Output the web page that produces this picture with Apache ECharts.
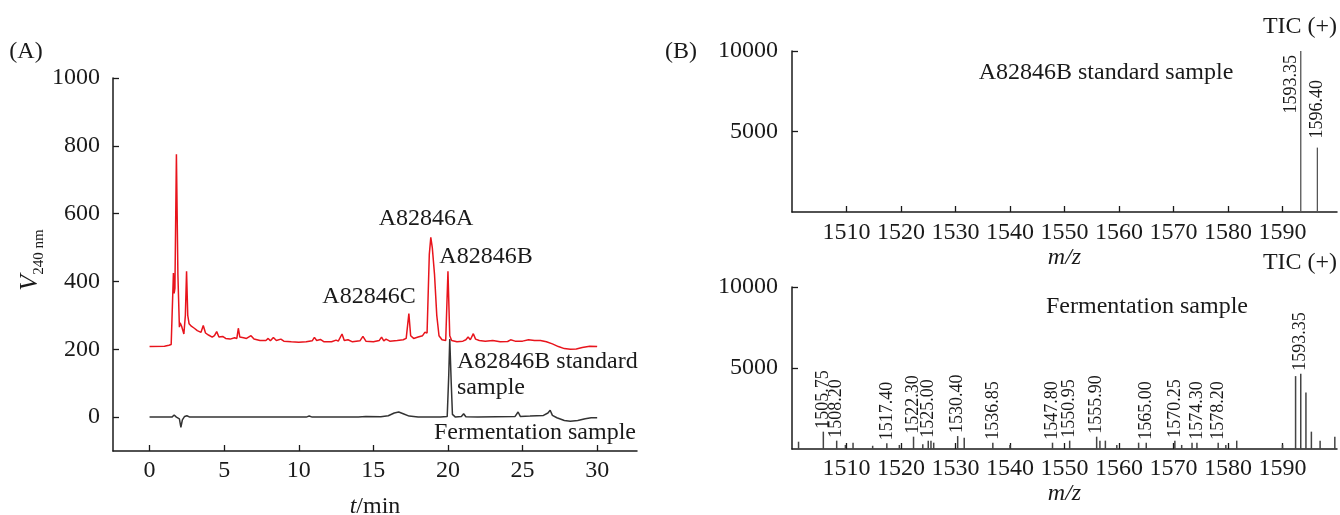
<!DOCTYPE html>
<html>
<head>
<meta charset="utf-8">
<script src="https://cdn.jsdelivr.net/npm/echarts@6/dist/echarts.min.js"></script>
<style>
  html, body { margin: 0; padding: 0; background: #fff; }
  #main { width: 1340px; height: 515px; }
</style>
</head>
<body>
<div id="main"></div>
<script>
// ===== (A) HPLC chromatogram, 240 nm =====
var redTime = [0, 1.0, 1.3, 1.45, 1.52, 1.6, 1.65, 1.7, 1.8, 1.9, 2.0, 2.05, 2.15, 2.3, 2.4, 2.48, 2.56, 2.65, 2.8, 3.0,
  3.2, 3.45, 3.6, 3.75, 3.95, 4.2, 4.35, 4.5, 4.65, 4.9, 5.1, 5.4, 5.7, 5.85, 5.95, 6.05, 6.3, 6.5, 6.8, 7.0,
  7.4, 7.8, 7.95, 8.1, 8.3, 8.5, 8.8, 9.0, 9.5, 10.0, 10.5, 10.9, 11.05, 11.2, 11.45, 11.7, 12.2, 12.5, 12.65, 12.9,
  13.05, 13.3, 13.6, 14.1, 14.3, 14.5, 15.0, 15.4, 15.55, 15.7, 15.85, 16.1, 16.6, 17.0, 17.2, 17.38, 17.5, 17.7, 18.0, 18.3,
  18.45, 18.6, 18.75, 18.85, 18.95, 19.1, 19.25, 19.4, 19.6, 19.85, 20.0, 20.12, 20.25, 20.6, 21.0, 21.2, 21.35, 21.5, 21.7, 21.85,
  22.1, 22.5, 23.0, 23.5, 24.0, 24.2, 24.5, 25.0, 25.4, 25.8, 26.2, 26.6, 27.0, 27.4, 27.8, 28.2, 28.6, 29.0, 29.5, 30.0];
var redSignal = [208, 209, 212, 214, 210, 425, 365, 380, 775, 420, 265, 278, 268, 245, 300, 430, 300, 275, 268, 262,
  255, 250, 270, 248, 242, 236, 240, 252, 236, 238, 232, 230, 234, 232, 262, 236, 234, 232, 240, 230,
  226, 226, 232, 225, 235, 226, 230, 224, 222, 221, 222, 225, 235, 226, 229, 222, 222, 227, 224, 245,
  226, 228, 222, 225, 238, 224, 222, 226, 236, 225, 230, 224, 226, 228, 232, 305, 240, 232, 236, 240,
  250, 248, 480, 530, 500, 420, 300, 240, 228, 226, 430, 240, 226, 222, 224, 228, 236, 228, 246, 230,
  226, 224, 226, 222, 223, 228, 224, 224, 228, 226, 226, 222, 216, 208, 202, 200, 201, 205, 209, 208];

var blackTime = [0, 1.5, 1.65, 1.8, 2.0, 2.1, 2.2, 2.35, 2.5, 2.7, 5, 8, 10.5, 10.7, 10.9, 14.0, 14.5, 15.5, 16.0, 16.4,
  16.7, 17.0, 17.4, 18.0, 19.5, 19.95, 20.05, 20.12, 20.22, 20.3, 20.5, 20.9, 21.05, 21.2, 22, 24.5, 24.7, 24.85, 25.5, 26.4,
  26.7, 26.85, 27.0, 27.3, 27.8, 28.2, 28.7, 29.2, 29.6, 30];
var blackSignal = [0, 0, 6, 0, -5, -30, -8, 2, 4, 0, 0, 0, 0, 3, 0, 0, 2, 1, 4, 12,
  15, 10, 3, 0, 0, 2, 120, 230, 100, 8, 0, 2, 10, 1, 0, 2, 15, 2, 3, 5,
  12, 20, 5, -2, -10, -12, -10, -5, -2, -2];

var timeTicks = [0, 5, 10, 15, 20, 25, 30];
var voltTicks = [0, 200, 400, 600, 800, 1000];

// ===== (B) mass spectra =====
var stdMz = [1593.35, 1596.40];
var stdIntensity = [10000, 4000];

var fermMz = [1501.2, 1505.75, 1508.20, 1509.8, 1511.2, 1514.8, 1517.40, 1519.7, 1522.30, 1524.0,
  1525.00, 1525.5, 1526.0, 1530.40, 1531.6, 1536.85, 1540.0, 1547.80, 1550.95, 1555.90,
  1556.5, 1557.5, 1559.6, 1563.6, 1565.00, 1570.25, 1571.5, 1573.4, 1574.30, 1578.20,
  1579.6, 1581.6, 1590.0, 1592.4, 1593.35, 1594.3, 1595.3, 1596.9, 1599.6];
var fermIntensity = [450, 1070, 515, 250, 390, 200, 350, 250, 760, 290,
  515, 515, 390, 800, 700, 390, 250, 390, 515, 760,
  515, 515, 250, 390, 390, 515, 250, 390, 390, 390,
  250, 515, 250, 4500, 4650, 3480, 1070, 515, 760];
var fermLabelled = [1505.75, 1508.20, 1517.40, 1522.30, 1525.00, 1530.40, 1536.85, 1547.80, 1550.95,
  1555.90, 1565.00, 1570.25, 1574.30, 1578.20, 1593.35];

var mzTicks = [1510, 1520, 1530, 1540, 1550, 1560, 1570, 1580, 1590];
var intensityTicks = [5000, 10000];

var SERIF = '"Liberation Serif", "DejaVu Serif", serif';
var INK = '#1a1a1a';

var zip = function(xs, ys) { return xs.map(function(x, i) { return [x, ys[i]]; }); };

var stickLabel = {
  show: true,
  position: 'top',
  rotate: 90,
  align: 'left',
  verticalAlign: 'middle',
  distance: 3,
  fontFamily: SERIF,
  fontSize: 18,
  color: INK,
  formatter: function(p) { return p.value[0].toFixed(2); }
};

var stdData = stdMz.map(function(mz, i) {
  var item = { value: [mz, stdIntensity[i]] };
  if (stdIntensity[i] >= 10000) {
    // 满量程的峰，标签贴在线的左侧
    item.label = { position: 'insideTop', align: 'right', verticalAlign: 'bottom', distance: 4 };
  } else {
    item.label = { distance: 9 };
  }
  return item;
});

var fermData = fermMz.map(function(mz, i) {
  return { value: [mz, fermIntensity[i]], label: { show: fermLabelled.indexOf(mz) !== -1 } };
});

// 坐标轴公共样式
var axisLine = { onZero: false, lineStyle: { color: INK, width: 1.5 } };
var plain = function(v) { return String(v); };

function xAxisCfg(grid, min, max, ticks, margin, name, gap) {
  return {
    type: 'value', gridIndex: grid, min: min, max: max,
    axisLine: axisLine,
    axisTick: { inside: true, length: 6, lineStyle: { color: INK, width: 1.3 }, customValues: ticks },
    axisLabel: { customValues: ticks, formatter: plain, fontFamily: SERIF, fontSize: 24, color: INK, margin: margin },
    splitLine: { show: false },
    name: name, nameLocation: 'middle', nameGap: gap,
    nameTextStyle: { fontFamily: SERIF, fontSize: 24, color: INK,
      rich: { i: { fontFamily: SERIF, fontSize: 24, fontStyle: 'italic', color: INK } } }
  };
}
function yAxisCfg(grid, min, max, ticks, margin) {
  return {
    type: 'value', gridIndex: grid, min: min, max: max,
    axisLine: axisLine,
    axisTick: { inside: true, length: 6, lineStyle: { color: INK, width: 1.3 }, customValues: ticks },
    axisLabel: { customValues: ticks, formatter: plain, fontFamily: SERIF, fontSize: 24, color: INK, margin: margin },
    splitLine: { show: false }
  };
}

function txt(x, y, text, opts) {
  opts = opts || {};
  return {
    type: 'text', x: x, y: y, rotation: opts.rotation || 0,
    style: {
      text: text, fontFamily: SERIF, fontSize: opts.size || 24, fill: INK,
      align: opts.align || 'center', verticalAlign: 'middle', rich: opts.rich
    }
  };
}

var chart = echarts.init(document.getElementById('main'));
chart.setOption({
  animation: false,
  grid: [
    { left: 113, top: 78, width: 524, height: 373, outerBoundsMode: 'none', containLabel: false },
    { left: 792, top: 51, width: 545, height: 161, outerBoundsMode: 'none', containLabel: false },
    { left: 792, top: 287, width: 545, height: 162, outerBoundsMode: 'none', containLabel: false }
  ],
  xAxis: [
    xAxisCfg(0, -2.45, 32.67, timeTicks, 8, '{i|t}/min', 44),
    xAxisCfg(1, 1500, 1600, mzTicks, 9, '{i|m/z}', 34),
    xAxisCfg(2, 1500, 1600, mzTicks, 8, '{i|m/z}', 26)
  ],
  yAxis: [
    yAxisCfg(0, -100, 1000, voltTicks, 13),
    yAxisCfg(1, 0, 10000, intensityTicks, 14),
    yAxisCfg(2, 0, 10000, intensityTicks, 14)
  ],
  series: [
    {
      name: 'red trace', type: 'line', xAxisIndex: 0, yAxisIndex: 0,
      showSymbol: false, data: zip(redTime, redSignal),
      lineStyle: { color: '#e8141c', width: 1.5 }
    },
    {
      name: 'black trace', type: 'line', xAxisIndex: 0, yAxisIndex: 0,
      showSymbol: false, data: zip(blackTime, blackSignal),
      lineStyle: { color: '#333', width: 1.5 }
    },
    {
      name: 'standard', type: 'bar', xAxisIndex: 1, yAxisIndex: 1,
      barWidth: 1.3, itemStyle: { color: '#555' },
      label: stickLabel, data: stdData
    },
    {
      name: 'fermentation', type: 'bar', xAxisIndex: 2, yAxisIndex: 2,
      barWidth: 1.5, itemStyle: { color: '#444' },
      label: stickLabel, data: fermData
    }
  ],
  graphic: [
    txt(26, 52, '(A)'),
    txt(681, 52, '(B)'),
    txt(30, 260, '{v|V}{s|240 nm}', {
      rotation: Math.PI / 2,
      rich: {
        v: { fontFamily: SERIF, fontSize: 26, fontStyle: 'italic', fill: INK, verticalAlign: 'bottom' },
        s: { fontFamily: SERIF, fontSize: 15, fill: INK, verticalAlign: 'bottom', padding: [0, 0, -4, 0] }
      }
    }),
    txt(426, 219, 'A82846A'),
    txt(486, 257, 'A82846B'),
    txt(369, 297, 'A82846C'),
    txt(457, 362, 'A82846B standard', { align: 'left' }),
    txt(457, 388, 'sample', { align: 'left' }),
    txt(434, 433, 'Fermentation sample', { align: 'left' }),
    txt(1300, 27, 'TIC (+)'),
    txt(1106, 73, 'A82846B standard sample'),
    txt(1300, 263, 'TIC (+)'),
    txt(1147, 307, 'Fermentation sample')
  ]
});
</script>
</body>
</html>
